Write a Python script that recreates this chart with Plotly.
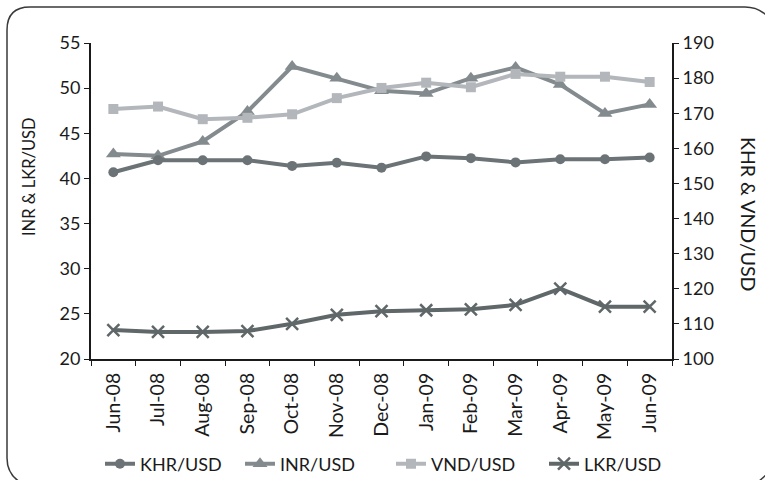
import plotly.graph_objects as go

months = ["Jun-08", "Jul-08", "Aug-08", "Sep-08", "Oct-08", "Nov-08", "Dec-08",
          "Jan-09", "Feb-09", "Mar-09", "Apr-09", "May-09", "Jun-09"]

# right axis (KHR & VND per USD, scaled)
khr = [153.2, 156.6, 156.6, 156.6, 155.0, 155.9, 154.5, 157.7, 157.2, 156.0, 156.9, 156.9, 157.4]
vnd = [171.2, 171.9, 168.3, 168.7, 169.7, 174.3, 177.2, 178.7, 177.4, 181.2, 180.4, 180.4, 178.9]
# left axis (INR & LKR per USD)
inr = [42.7, 42.5, 44.1, 47.4, 52.4, 51.1, 49.7, 49.4, 51.1, 52.3, 50.4, 47.2, 48.2]
lkr = [23.2, 23.0, 23.0, 23.1, 23.9, 24.9, 25.3, 25.4, 25.5, 26.0, 27.8, 25.8, 25.8]

left_ticks = [20, 25, 30, 35, 40, 45, 50, 55]
right_ticks = [100, 110, 120, 130, 140, 150, 160, 170, 180, 190]

W, H = 765, 480
L, R, T, B = 91, 93, 43, 121
PW, PH = W - L - R, H - T - B
FONT = "Lato"
TXT = "#1a1a1a"


def px(x):
    return (x - L) / PW


def py(y):
    return (H - B - y) / PH


fig = go.Figure()

fig.add_trace(go.Scatter(
    x=months, y=khr, name="KHR/USD", yaxis="y2", mode="lines+markers",
    legend="legend",
    line=dict(color="#6b7376", width=4),
    marker=dict(symbol="circle", size=10, color="#6b7376")))
fig.add_trace(go.Scatter(
    x=months, y=inr, name="INR/USD", yaxis="y", mode="lines+markers",
    legend="legend2",
    line=dict(color="#848b8f", width=4),
    marker=dict(symbol="triangle-up", size=13, color="#848b8f")))
fig.add_trace(go.Scatter(
    x=months, y=vnd, name="VND/USD", yaxis="y2", mode="lines+markers",
    legend="legend3",
    line=dict(color="#b3b7bb", width=4),
    marker=dict(symbol="square", size=10, color="#b3b7bb")))
fig.add_trace(go.Scatter(
    x=months, y=lkr, name="LKR/USD", yaxis="y", mode="lines+markers",
    legend="legend4",
    line=dict(color="#5f6769", width=4),
    marker=dict(symbol="x-thin", size=12, color="#5f6769",
                line=dict(color="#5f6769", width=2.5))))

axis_common = dict(
    showgrid=False, zeroline=False, showline=True, linecolor="#1a1a1a",
    linewidth=2, ticks="outside", ticklen=5, tickwidth=1, tickcolor="#1a1a1a",
    automargin=False,
    tickfont=dict(family=FONT, size=18, color=TXT))


def legend_at(x_left):
    return dict(orientation="h", x=px(x_left), xanchor="left", y=py(464),
                yanchor="middle", font=dict(family=FONT, size=18, color=TXT),
                itemwidth=30, bgcolor="rgba(0,0,0,0)")


fig.update_layout(
    width=W, height=H,
    margin=dict(l=L, r=R, t=T, b=B, autoexpand=False),
    paper_bgcolor="white", plot_bgcolor="white",
    font=dict(family=FONT, color=TXT),
    showlegend=True,
    legend=legend_at(100),
    legend2=legend_at(240),
    legend3=legend_at(391),
    legend4=legend_at(544),
    xaxis=dict(axis_common, type="category", range=[-0.5, 12.5],
               tickson="boundaries", tickangle=-90, ticklabelstandoff=4,
               tickfont=dict(family=FONT, size=19.5, color=TXT)),
    yaxis=dict(axis_common, range=[20, 55], tickvals=left_ticks),
    yaxis2=dict(axis_common, range=[100, 190], tickvals=right_ticks,
                overlaying="y", side="right"),
)

# axis titles
fig.add_annotation(text="INR & LKR/USD", x=px(29), y=py(177), xref="paper",
                   yref="paper", showarrow=False, textangle=-90,
                   xanchor="center", yanchor="middle",
                   font=dict(family=FONT, size=16.5, color=TXT))
fig.add_annotation(text="KHR & VND/USD", x=px(749), y=py(214), xref="paper",
                   yref="paper", showarrow=False, textangle=90,
                   xanchor="center", yanchor="middle",
                   font=dict(family=FONT, size=19.5, color=TXT))

# rounded chart frame
frame = (f"M {px(7)},{py(458)} L {px(7)},{py(30)} "
         f"Q {px(7)},{py(7)} {px(30)},{py(7)} L {px(745)},{py(7)} "
         f"Q {px(762)},{py(7)} {px(772)},{py(22)}")
fig.add_shape(type="path", path=frame, xref="paper", yref="paper",
              line=dict(color="#3a3a3a", width=1.5))
bottom_left = (f"M {px(7)},{py(458)} Q {px(7)},{py(478)} {px(28)},{py(486)}")
fig.add_shape(type="path", path=bottom_left, xref="paper", yref="paper",
              line=dict(color="#3a3a3a", width=1.5))
bottom_right = (f"M {px(755)},{py(484)} Q {px(764)},{py(478)} {px(772)},{py(468)}")
fig.add_shape(type="path", path=bottom_right, xref="paper", yref="paper",
              line=dict(color="#3a3a3a", width=1.5))

fig.write_html("out.html")
